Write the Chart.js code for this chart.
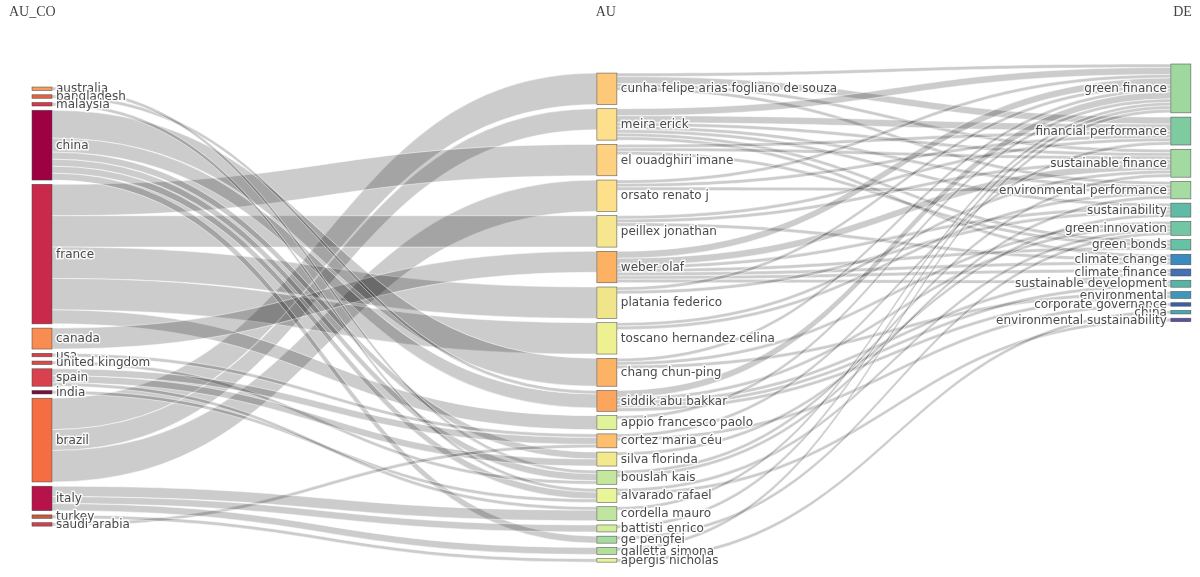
<!DOCTYPE html>
<html>
<head>
<meta charset="utf-8">
<script src="https://cdn.jsdelivr.net/npm/chart.js@4.4.1/dist/chart.umd.min.js"></script>
<style>
  html, body { margin: 0; padding: 0; background: #fff; }
  #wrap { width: 1200px; height: 577px; position: relative; }
</style>
</head>
<body>
<div id="wrap"><canvas id="threeFields"></canvas></div>
<script>
// Three-field plot: countries -> authors -> keywords
const columnTitles = ['AU_CO', 'AU', 'DE'];

const countries = ['australia', 'bangladesh', 'malaysia', 'china', 'france', 'canada', 'usa',
  'united kingdom', 'spain', 'india', 'brazil', 'italy', 'turkey', 'saudi arabia'];

const authors = ['cunha felipe arias fogliano de souza', 'meira erick', 'el ouadghiri imane',
  'orsato renato j', 'peillex jonathan', 'weber olaf', 'platania federico',
  'toscano hernandez celina', 'chang chun-ping', 'siddik abu bakkar', 'appio francesco paolo',
  'cortez maria céu', 'silva florinda', 'bouslah kais', 'alvarado rafael', 'cordella mauro',
  'battisti enrico', 'ge pengfei', 'galletta simona', 'apergis nicholas'];

const keywords = ['green finance', 'financial performance', 'sustainable finance',
  'environmental performance', 'sustainability', 'green innovation', 'green bonds',
  'climate change', 'climate finance', 'sustainable development', 'environmental',
  'corporate governance', 'china', 'environmental sustainability'];

// [country, author, value]
const countryAuthorLinks = [
  ['brazil', 'cunha felipe arias fogliano de souza', 9],
  ['brazil', 'meira erick', 6],
  ['brazil', 'orsato renato j', 9],
  ['france', 'el ouadghiri imane', 9],
  ['france', 'peillex jonathan', 9],
  ['france', 'platania federico', 9],
  ['france', 'toscano hernandez celina', 9],
  ['france', 'appio francesco paolo', 4],
  ['canada', 'weber olaf', 6],
  ['china', 'chang chun-ping', 8],
  ['china', 'siddik abu bakkar', 4],
  ['china', 'ge pengfei', 2],
  ['china', 'alvarado rafael', 2],
  ['china', 'bouslah kais', 2],
  ['china', 'silva florinda', 2],
  ['bangladesh', 'siddik abu bakkar', 1],
  ['australia', 'bouslah kais', 1],
  ['united kingdom', 'bouslah kais', 1],
  ['malaysia', 'alvarado rafael', 1],
  ['india', 'alvarado rafael', 1],
  ['spain', 'cortez maria céu', 2],
  ['spain', 'silva florinda', 2],
  ['spain', 'cordella mauro', 1],
  ['usa', 'cortez maria céu', 1],
  ['saudi arabia', 'cortez maria céu', 1],
  ['turkey', 'apergis nicholas', 1],
  ['italy', 'cordella mauro', 3],
  ['italy', 'battisti enrico', 2],
  ['italy', 'galletta simona', 2]
];

// [author, keyword, value]
const authorKeywordLinks = [
  ['cunha felipe arias fogliano de souza', 'green finance', 1],
  ['cunha felipe arias fogliano de souza', 'financial performance', 2],
  ['cunha felipe arias fogliano de souza', 'sustainable finance', 1],
  ['cunha felipe arias fogliano de souza', 'environmental performance', 1],
  ['meira erick', 'green finance', 2],
  ['meira erick', 'financial performance', 2],
  ['meira erick', 'sustainable finance', 1],
  ['meira erick', 'environmental performance', 1],
  ['meira erick', 'sustainability', 1],
  ['meira erick', 'green bonds', 1],
  ['meira erick', 'climate change', 1],
  ['el ouadghiri imane', 'financial performance', 1],
  ['el ouadghiri imane', 'sustainable finance', 1],
  ['el ouadghiri imane', 'green bonds', 1],
  ['orsato renato j', 'green finance', 1],
  ['orsato renato j', 'financial performance', 1],
  ['orsato renato j', 'environmental performance', 1],
  ['peillex jonathan', 'financial performance', 1],
  ['peillex jonathan', 'sustainable finance', 1],
  ['peillex jonathan', 'climate change', 1],
  ['weber olaf', 'green finance', 2],
  ['weber olaf', 'sustainable finance', 2],
  ['weber olaf', 'sustainability', 1],
  ['weber olaf', 'climate finance', 1],
  ['weber olaf', 'sustainable development', 1],
  ['weber olaf', 'green bonds', 1],
  ['weber olaf', 'climate change', 1],
  ['platania federico', 'green finance', 1],
  ['platania federico', 'sustainability', 1],
  ['toscano hernandez celina', 'sustainable finance', 1],
  ['toscano hernandez celina', 'environmental performance', 1],
  ['chang chun-ping', 'green finance', 1],
  ['chang chun-ping', 'green innovation', 1],
  ['chang chun-ping', 'environmental', 1],
  ['siddik abu bakkar', 'green finance', 2],
  ['siddik abu bakkar', 'green innovation', 1],
  ['siddik abu bakkar', 'climate finance', 1],
  ['siddik abu bakkar', 'sustainable development', 1],
  ['siddik abu bakkar', 'environmental', 1],
  ['appio francesco paolo', 'green finance', 1],
  ['cortez maria céu', 'financial performance', 1],
  ['cortez maria céu', 'corporate governance', 1],
  ['silva florinda', 'sustainability', 1],
  ['bouslah kais', 'sustainable finance', 1],
  ['bouslah kais', 'environmental performance', 1],
  ['alvarado rafael', 'green innovation', 1],
  ['alvarado rafael', 'environmental sustainability', 1],
  ['cordella mauro', 'green finance', 1],
  ['battisti enrico', 'green finance', 1],
  ['ge pengfei', 'green innovation', 1],
  ['galletta simona', 'green finance', 1],
  ['apergis nicholas', 'china', 1]
];

// node colours, one per name in each column
const countryColors = ['#f99b5b', '#e8613f', '#d9374a', '#9e0142', '#c92a4b', '#f88c51', '#d8404b',
  '#dc4a48', '#d9414e', '#7a0d3c', '#f46d43', '#b5134a', '#c85a3c', '#d23f50'];
const authorColors = ['#fdc877', '#fedf8b', '#fdd17f', '#fee08b', '#f5e68f', '#fdb163', '#f1e58c',
  '#eef191', '#fdb365', '#fca55d', '#e0f29a', '#fdbf6f', '#f2e88e', '#c4e79d', '#eaf59a',
  '#bfe5a0', '#d3ee9b', '#a6db9f', '#b2df9c', '#e6f598'];
const keywordColors = ['#9fd89f', '#7fcba0', '#a2daa1', '#a6dca2', '#5fbba5', '#72c6a4', '#66c2a5',
  '#3a8cc0', '#4570b5', '#55b6a8', '#3f96b9', '#3d5ea9', '#4aa7ae', '#5e4fa2'];

const columns = [countries, authors, keywords];
const columnColors = [countryColors, authorColors, keywordColors];
const linkSets = [countryAuthorLinks, authorKeywordLinks];

// layout: column positions on x, column tops on y (axis units)
const columnX = [0, 0.991, 1.998];
const columnTop = [6.6, 2.6, 0];
const nodePad = 1.22;
const nodeWidth = 20;

function buildSankey() {
  const nodes = columns.map((names, c) => names.map((name, i) => ({
    name, col: c, color: columnColors[c][i], inVal: 0, outVal: 0, srcLinks: [], tgtLinks: []
  })));
  const links = [];
  linkSets.forEach((set, c) => {
    set.forEach(([s, t, v]) => {
      const src = nodes[c].find(n => n.name === s);
      const tgt = nodes[c + 1].find(n => n.name === t);
      const link = { src, tgt, value: v };
      src.outVal += v;
      tgt.inVal += v;
      src.srcLinks.push(link);
      tgt.tgtLinks.push(link);
      links.push(link);
    });
  });
  nodes.forEach((col, c) => {
    let cursor = columnTop[c];
    col.forEach(n => {
      n.value = Math.max(n.inVal, n.outVal);
      n.y0 = cursor;
      n.y1 = cursor + n.value;
      cursor = n.y1 + nodePad;
    });
  });
  nodes.flat().forEach(n => {
    n.srcLinks.sort((a, b) => a.tgt.y0 - b.tgt.y0);
    n.tgtLinks.sort((a, b) => a.src.y0 - b.src.y0);
    let sy = n.y0;
    n.srcLinks.forEach(l => { l.sy0 = sy; sy += l.value; l.sy1 = sy; });
    let ty = n.y0;
    n.tgtLinks.forEach(l => { l.ty0 = ty; ty += l.value; l.ty1 = ty; });
  });
  return { nodes, links };
}

const sankey = buildSankey();

const sankeyPlugin = {
  id: 'sankeyDraw',
  afterDraw(chart) {
    const { ctx, scales: { x, y } } = chart;
    const colX = c => x.getPixelForValue(columnX[c]);

    ctx.save();

    // links
    sankey.links.forEach(l => {
      const x0 = colX(l.src.col) + nodeWidth;
      const x1 = colX(l.tgt.col);
      const xm = (x0 + x1) / 2;
      const a0 = y.getPixelForValue(l.sy0), a1 = y.getPixelForValue(l.sy1);
      const b0 = y.getPixelForValue(l.ty0), b1 = y.getPixelForValue(l.ty1);
      ctx.beginPath();
      ctx.moveTo(x0, a0);
      ctx.bezierCurveTo(xm, a0, xm, b0, x1, b0);
      ctx.lineTo(x1, b1);
      ctx.bezierCurveTo(xm, b1, xm, a1, x0, a1);
      ctx.closePath();
      ctx.fillStyle = 'rgba(0,0,0,0.2)';
      ctx.fill();
      ctx.strokeStyle = 'rgba(255,255,255,0.7)';
      ctx.lineWidth = 0.7;
      ctx.stroke();
    });

    // nodes
    sankey.nodes.flat().forEach(n => {
      const px = colX(n.col);
      const top = y.getPixelForValue(n.y0);
      const h = y.getPixelForValue(n.y1) - top;
      ctx.fillStyle = n.color;
      ctx.fillRect(px, top, nodeWidth, h);
      ctx.strokeStyle = 'rgba(68,68,68,0.85)';
      ctx.lineWidth = 0.6;
      ctx.strokeRect(px, top, nodeWidth, h);
    });

    // node labels
    ctx.font = '12px "DejaVu Sans", Verdana, sans-serif';
    ctx.textBaseline = 'middle';
    ctx.lineJoin = 'round';
    sankey.nodes.flat().forEach(n => {
      const px = colX(n.col);
      const cy = (y.getPixelForValue(n.y0) + y.getPixelForValue(n.y1)) / 2 + 0.5;
      let tx;
      if (n.col === columns.length - 1) {
        ctx.textAlign = 'right';
        tx = px - 4;
      } else {
        ctx.textAlign = 'left';
        tx = px + nodeWidth + 4;
      }
      ctx.strokeStyle = 'rgba(255,255,255,0.85)';
      ctx.lineWidth = 3;
      ctx.strokeText(n.name, tx, cy);
      ctx.fillStyle = '#4a4a4a';
      ctx.fillText(n.name, tx, cy);
    });

    // column titles
    ctx.font = '14px "Liberation Serif", "Times New Roman", serif';
    ctx.fillStyle = '#444';
    ctx.textBaseline = 'middle';
    ctx.textAlign = 'left';
    ctx.fillText(columnTitles[0], colX(0) - 23, 12);
    ctx.textAlign = 'center';
    ctx.fillText(columnTitles[1], colX(1) + nodeWidth / 2 - 1, 12);
    ctx.textAlign = 'right';
    ctx.fillText(columnTitles[2], colX(2) + nodeWidth + 1, 12);

    ctx.restore();
  }
};

new Chart(document.getElementById('threeFields'), {
  type: 'scatter',
  data: { datasets: [] },
  options: {
    responsive: true,
    maintainAspectRatio: false,
    animation: false,
    events: [],
    layout: { padding: { left: 32, right: 28, top: 64, bottom: 12 } },
    plugins: {
      legend: { display: false },
      tooltip: { enabled: false }
    },
    scales: {
      x: { type: 'linear', min: 0, max: 2, display: false },
      y: { type: 'linear', min: 0, max: 143.6, reverse: true, display: false }
    }
  },
  plugins: [sankeyPlugin]
});
</script>
</body>
</html>
